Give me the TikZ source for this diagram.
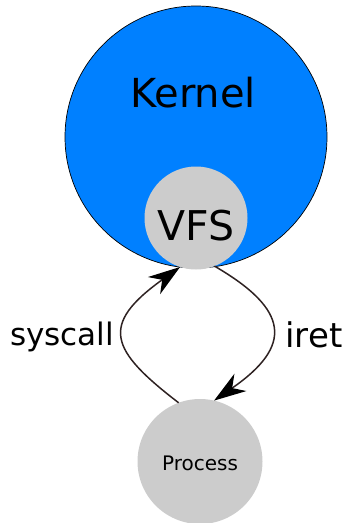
\documentclass[tikz,border=0pt]{standalone}
\usepackage{fontspec}
\setmainfont{DejaVu Sans}
\usetikzlibrary{arrows.meta}
\definecolor{kblue}{RGB}{0,128,255}
\definecolor{cgray}{RGB}{204,204,204}
\definecolor{lnk}{RGB}{46,34,34}
\begin{document}
\begin{tikzpicture}[x=1pt,y=-1pt,
  circ/.style={circle,inner sep=0pt,outer sep=0pt},
  lbl/.style={inner sep=0pt,anchor=base},
  conn/.style={draw=lnk,line width=1.5pt,-{Stealth[length=32pt,width=21pt,inset=10pt,fill=black,color=black]}}]
\useasboundingbox (0,0) rectangle (350,523);
\node[circ,fill=kblue,draw=black,line width=0.7pt,minimum size=262pt] (kernel) at (196,137) {};
\node[lbl] (kt) at (193,107) {\fontsize{40}{48}\selectfont Kernel};
\node[circ,fill=cgray,minimum size=103pt] (vfs) at (196,218) {};
\node[lbl] (vt) at (196,240) {\fontsize{41}{49}\selectfont VFS};
\node[circ,fill=cgray,minimum size=125pt] (proc) at (200,461.5) {};
\node[lbl] (pt) at (200,470) {\fontsize{20}{24}\selectfont Process};
\path[conn] (proc.110.8) .. controls (110,350) and (99,325) .. (vfs.252);
\path[conn] (vfs.291) .. controls (290,310) and (293,346) .. (proc.77);
\node[lbl] (sc) at (62,345) {\fontsize{31}{37}\selectfont syscall};
\node[lbl] (ir) at (314,347) {\fontsize{34}{40}\selectfont iret};
\end{tikzpicture}
\end{document}
